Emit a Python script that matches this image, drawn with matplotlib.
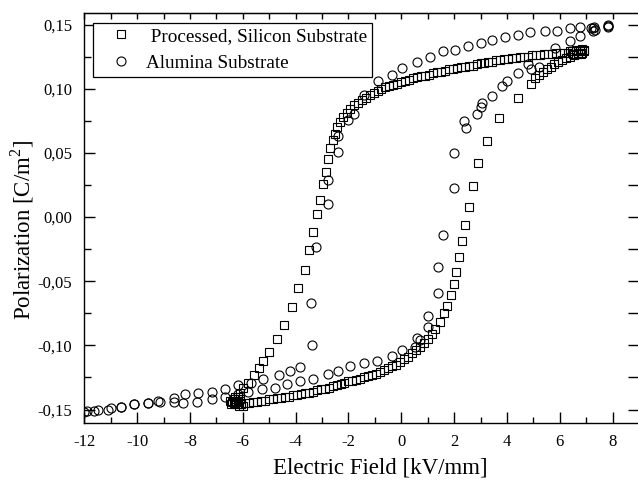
import matplotlib
matplotlib.use("Agg")
import matplotlib.pyplot as plt
from matplotlib.ticker import MultipleLocator, FuncFormatter

plt.rcParams['font.family'] = 'serif'
plt.rcParams['font.serif'] = ['Liberation Serif', 'DejaVu Serif']
plt.rcParams['mathtext.fontset'] = 'custom'
plt.rcParams['mathtext.rm'] = 'Liberation Serif'
plt.rcParams['axes.unicode_minus'] = False

# Processed, Silicon Substrate - branch with decreasing field
si_down_x = [6.9, 6.75, 6.6, 6.45, 6.3, 6.15, 6.0, 5.85, 5.7, 5.55, 5.4, 5.25, 5.1,
             4.95, 4.8, 4.65, 4.5, 4.35, 4.2, 4.05, 3.9, 3.75, 3.6, 3.45, 3.3, 3.15,
             3.0, 2.85, 2.7, 2.55, 2.4, 2.25, 2.1, 1.95, 1.8, 1.65, 1.5, 1.35, 1.2,
             1.05, 0.9, 0.75, 0.6, 0.45, 0.3, 0.15, 0.0, -0.15, -0.3, -0.45, -0.6,
             -0.75, -0.9, -1.05, -1.2, -1.35, -1.5, -1.65, -1.8, -1.93, -2.05, -2.2,
             -2.32, -2.43, -2.52, -2.6, -2.69, -2.76, -2.84, -2.95, -3.07, -3.2,
             -3.33, -3.48, -3.64, -3.9, -4.13, -4.43, -4.7, -5.0, -5.22, -5.38,
             -5.57, -5.8, -5.98, -6.1, -6.2]
si_down_y = [0.129, 0.129, 0.129, 0.129, 0.128, 0.128, 0.128, 0.128, 0.127, 0.127,
             0.127, 0.126, 0.126, 0.126, 0.125, 0.125, 0.125, 0.124, 0.124, 0.123,
             0.123, 0.122, 0.122, 0.121, 0.121, 0.120, 0.120, 0.119, 0.118, 0.118,
             0.117, 0.117, 0.116, 0.115, 0.115, 0.114, 0.113, 0.113, 0.112, 0.111,
             0.110, 0.110, 0.109, 0.108, 0.107, 0.106, 0.105, 0.104, 0.103, 0.102,
             0.101, 0.100, 0.098, 0.097, 0.095, 0.093, 0.091, 0.089, 0.087, 0.084,
             0.081, 0.078, 0.074, 0.070, 0.065, 0.060, 0.054, 0.045, 0.035, 0.026,
             0.013, 0.002, -0.012, -0.026, -0.041, -0.055, -0.070, -0.084, -0.095,
             -0.105, -0.112, -0.118, -0.123, -0.129, -0.133, -0.137, -0.140]

# Processed, Silicon Substrate - branch with increasing field
si_up_x = [-6.2, -6.05, -5.9, -5.75, -5.6, -5.45, -5.3, -5.15, -5.0, -4.85, -4.7,
           -4.55, -4.4, -4.25, -4.1, -3.95, -3.8, -3.65, -3.5, -3.35, -3.2, -3.05,
           -2.9, -2.75, -2.6, -2.45, -2.3, -2.15, -2.0, -1.85, -1.7, -1.55, -1.4,
           -1.25, -1.1, -0.95, -0.8, -0.65, -0.5, -0.35, -0.2, -0.05, 0.1, 0.25,
           0.4, 0.55, 0.7, 0.85, 1.03, 1.17, 1.29, 1.48, 1.6, 1.73, 1.88, 1.98,
           2.08, 2.2, 2.31, 2.42, 2.58, 2.72, 2.92, 3.26, 3.71, 4.43, 4.92, 5.05,
           5.2, 5.35, 5.5, 5.65, 5.8, 5.95, 6.1, 6.25, 6.4, 6.55, 6.7, 6.85]
si_up_y = [-0.146, -0.146, -0.145, -0.145, -0.144, -0.144, -0.143, -0.143, -0.142,
           -0.142, -0.141, -0.141, -0.140, -0.140, -0.139, -0.139, -0.138, -0.137,
           -0.137, -0.136, -0.135, -0.134, -0.134, -0.133, -0.132, -0.131, -0.130,
           -0.129, -0.128, -0.128, -0.127, -0.126, -0.125, -0.124, -0.123, -0.122,
           -0.121, -0.119, -0.118, -0.116, -0.115, -0.113, -0.111, -0.109, -0.106,
           -0.104, -0.101, -0.098, -0.095, -0.091, -0.087, -0.082, -0.075, -0.069,
           -0.061, -0.052, -0.043, -0.031, -0.019, -0.006, 0.008, 0.024, 0.042,
           0.059, 0.077, 0.093, 0.104, 0.108, 0.111, 0.113, 0.115, 0.117, 0.119,
           0.121, 0.122, 0.124, 0.125, 0.126, 0.127, 0.128]

# dense points piled up at the two turning points
si_tip_x = [-6.3, -6.35, -6.4, -6.35, -6.3, -6.25, -6.15, -6.45, -6.5, -6.0, -6.2,
            -6.1, 6.9, 6.85, 6.8, 6.75, 6.7, 6.6, 6.5, 6.4]
si_tip_y = [-0.146, -0.145, -0.144, -0.142, -0.140, -0.143, -0.147, -0.146, -0.143,
            -0.147, -0.144, -0.142, 0.130, 0.131, 0.127, 0.130, 0.128, 0.130,
            0.127, 0.129]

# Alumina Substrate - decreasing field
al_down_x = [7.84, 7.84, 7.35, 7.3, 7.25, 7.2, 6.78, 6.4, 5.9, 5.45, 4.89, 4.43,
             3.94, 3.45, 3.0, 2.54, 2.05, 1.59, 1.1, 0.6, 0.04, -0.34, -0.87,
             -1.43, -1.8, -2.0, -2.38, -2.38, -2.76, -2.76, -3.22, -3.41, -3.37,
             -3.83, -4.2, -4.62, -5.22, -5.7, -6.17, -6.67, -7.16, -7.7, -8.2,
             -8.6, -9.2, -9.6, -10.1, -10.6, -11.0, -11.5, -11.9]
al_down_y = [0.150, 0.148, 0.146, 0.148, 0.145, 0.147, 0.148, 0.147, 0.145, 0.145,
             0.144, 0.142, 0.140, 0.138, 0.136, 0.133, 0.130, 0.129, 0.125, 0.121,
             0.116, 0.111, 0.106, 0.095, 0.080, 0.076, 0.063, 0.051, 0.029, 0.010,
             -0.023, -0.067, -0.100, -0.117, -0.120, -0.123, -0.126, -0.129,
             -0.131, -0.134, -0.136, -0.137, -0.138, -0.141, -0.143, -0.145,
             -0.146, -0.148, -0.149, -0.150, -0.151]

# Alumina Substrate - increasing field
al_up_x = [-12.0, -11.65, -11.1, -10.6, -10.1, -9.6, -9.15, -8.6, -8.26, -7.73,
           -7.16, -6.67, -6.2, -5.8, -5.27, -4.77, -4.32, -3.83, -3.33, -2.76,
           -2.38, -1.93, -1.43, -0.91, -0.34, 0.04, 0.53, 0.6, 0.72, 1.03, 1.03,
           1.4, 1.4, 1.59, 2.0, 2.0, 2.46, 2.39, 2.88, 3.0, 3.07, 3.45, 3.83, 4.0,
           4.4, 4.8, 4.9, 5.2, 5.83, 6.4, 6.78, 7.27, 7.84]
al_up_y = [-0.152, -0.151, -0.150, -0.148, -0.146, -0.145, -0.144, -0.144, -0.145,
           -0.144, -0.142, -0.140, -0.138, -0.136, -0.134, -0.133, -0.130, -0.128,
           -0.126, -0.122, -0.120, -0.116, -0.114, -0.112, -0.108, -0.104, -0.101,
           -0.094, -0.096, -0.086, -0.077, -0.059, -0.039, -0.014, 0.023, 0.050,
           0.069, 0.075, 0.080, 0.086, 0.089, 0.094, 0.102, 0.106, 0.112, 0.119,
           0.115, 0.117, 0.132, 0.137, 0.141, 0.147, 0.149]

x_ticks = [-12, -10, -8, -6, -4, -2, 0, 2, 4, 6, 8]
y_ticks = [-0.15, -0.10, -0.05, 0.00, 0.05, 0.10, 0.15]

fig = plt.figure(figsize=(6.38, 4.8), dpi=100)
ax = fig.add_axes([0.1309, 0.11875, 0.8707, 0.85417])

sq = dict(linestyle='none', marker='s', markersize=5.8, markerfacecolor='none',
          markeredgecolor='black', markeredgewidth=0.8)
ci = dict(linestyle='none', marker='o', markersize=6.5, markerfacecolor='none',
          markeredgecolor='black', markeredgewidth=0.8)

ax.plot(si_down_x + si_up_x + si_tip_x, si_down_y + si_up_y + si_tip_y,
        label=' Processed, Silicon Substrate', **sq)
ax.plot(al_down_x + al_up_x, al_down_y + al_up_y, label='Alumina Substrate', **ci)

ax.set_xlim(-12.03, 9.0)
ax.set_ylim(-0.1605, 0.159)
ax.set_xticks(x_ticks)
ax.set_yticks(y_ticks)
ax.xaxis.set_minor_locator(MultipleLocator(1))
ax.yaxis.set_minor_locator(MultipleLocator(0.025))
ax.yaxis.set_major_formatter(FuncFormatter(lambda v, p: f"{v:.2f}".replace('.', ',')))
ax.xaxis.set_major_formatter(FuncFormatter(lambda v, p: f"{v:.0f}"))

ax.tick_params(which='both', direction='in', top=False, right=False,
               labelsize=12, width=1, pad=8)
ax.tick_params(which='major', length=8)
ax.tick_params(axis='x', which='minor', length=4)
ax.tick_params(axis='y', which='minor', length=5)

top = ax.secondary_xaxis('top')
top.set_xticks(x_ticks)
top.xaxis.set_minor_locator(MultipleLocator(1))
top.tick_params(which='both', direction='in', length=4, width=1, labeltop=False)

right = ax.secondary_yaxis('right')
right.set_yticks(y_ticks)
right.yaxis.set_minor_locator(MultipleLocator(0.025))
right.tick_params(which='both', direction='in', length=8, width=1, labelright=False)

for s in ax.spines.values():
    s.set_linewidth(1.0)

ax.set_xlabel('Electric Field [kV/mm]', fontsize=16.5)
ax.xaxis.set_label_coords(0.535, -0.084)
ax.set_ylabel('Polarization [C/m$^2$]', fontsize=16.5, labelpad=1)
ax.yaxis.label.set_y(0.47)

leg = ax.legend(loc='upper left', fontsize=13.8, frameon=True, fancybox=False,
                edgecolor='black', framealpha=1, handlelength=2.4,
                handletextpad=0.1, labelspacing=0.5, borderpad=0.25,
                borderaxespad=0.5)
leg.get_frame().set_linewidth(0.9)

fig.savefig('out.png', dpi=100)
